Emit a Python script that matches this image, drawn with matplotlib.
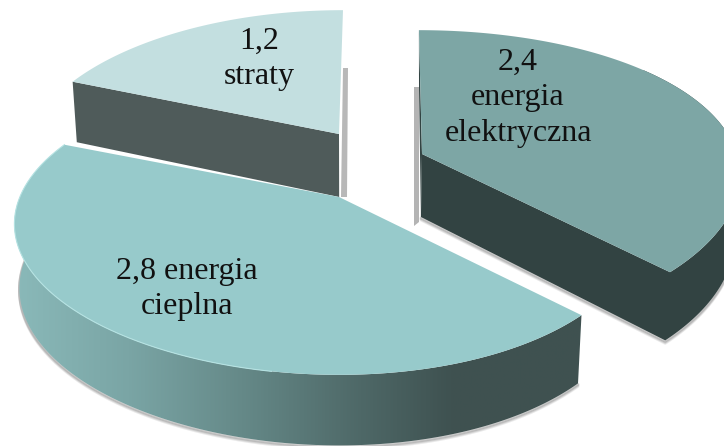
import numpy as np
from matplotlib import pyplot as plt
from matplotlib.colors import LinearSegmentedColormap
from matplotlib.patches import Polygon

# values go clockwise from 12 o'clock
VALUES = [2.4, 2.8, 1.2]
LABELS = ["2,4\nenergia\nelektryczna", "2,8 energia\ncieplna", "1,2\nstraty"]

# exploded slice geometry, in image pixels
APEX_X = [422, 339, 339]
APEX_Y = [154, 197, 134]
RADIUS_X = [315, 308, 310]
SKEW_X = [-3.5, 0, 4.7]
TILT_X = [0, 0.035, 0]
PERSP_X = [0.13, 0.179, 0.179]
LABEL_X = [518, 187, 259]
LABEL_Y = [98, 289, 59]

FACE_COLORS = ["#7da6a5", "#97cacb", "#c3dfe0"]
WALL_COLORS = ["#324342", "#3f5251", "#4f5b5a"]
SIDE_STOPS = [0, 0.2, 0.4, 0.61, 0.765, 1]
SIDE_GRADIENT = ["#8ab9b9", "#7aa5a5", "#658988", "#4e6867", "#3f5251", "#3f5150"]

RADIUS_Y = 146
PERSPECTIVE = 0.179
DEPTH = 63
SHADOW = "#8a8a8a"


def project(i, theta):
    u, v = np.cos(theta), np.sin(theta)
    x = APEX_X[i] + (RADIUS_X[i] * u + SKEW_X[i] * v) / (1 + PERSP_X[i] * v + TILT_X[i] * u)
    y = APEX_Y[i] - RADIUS_Y * v / (1 + PERSPECTIVE * v)
    return x, y, DEPTH / (1 + 0.6 * PERSPECTIVE * v)


def drop(x, y, depth):
    # walls lean slightly towards the middle of the picture
    return x + (350 - x) * 0.015, y + depth


def wall(ax, xs, ys, ds, **kwargs):
    bx, by = drop(xs, ys, ds)
    pts = np.column_stack([np.r_[xs, bx[::-1]], np.r_[ys, by[::-1]]])
    patch = Polygon(pts, closed=True, **kwargs)
    ax.add_patch(patch)
    return patch, bx, by


def ground_shadow(ax, bx, by):
    for off, alpha in zip([3.0, 2.0, 1.0], [0.18, 0.25, 0.35]):
        ax.plot(bx, by + off, color=SHADOW, alpha=alpha, linewidth=2,
                solid_capstyle='round', zorder=1)


fig = plt.figure(figsize=(7.24, 4.46), dpi=100)
ax = fig.add_axes([0, 0, 1, 1])
ax.set_xlim(0, 724)
ax.set_ylim(446, 0)
ax.axis('off')

spans = np.array(VALUES) / sum(VALUES) * 2 * np.pi
ends = np.pi / 2 - np.cumsum(spans)
starts = ends + spans

# right slice (furthest from the viewer, drawn first)
t = np.linspace(ends[0], starts[0], 200)
x, y, d = project(0, t)
ax_, ay_ = float(APEX_X[0]), float(APEX_Y[0])

ax.add_patch(Polygon([(414, 87), (419, 87), (419, 222), (414, 226)], color="#b4b4b4", lw=0, zorder=1))
arc = t < np.radians(40)
_, bx, by = wall(ax, np.r_[ax_, x[arc]], np.r_[ay_, y[arc]], np.r_[DEPTH, d[arc]],
                 color=WALL_COLORS[0], lw=0, zorder=2)
ground_shadow(ax, bx, by)
ax.add_patch(Polygon([(x[-1], y[-1]), (ax_, ay_), (ax_ - 1, ay_ + 66), (ax_ - 3, 87)],
                     color=WALL_COLORS[0], lw=0, zorder=2))
ax.add_patch(Polygon(np.column_stack([np.r_[ax_, x], np.r_[ay_, y]]),
                     color=FACE_COLORS[0], lw=0, zorder=3))

# top slice
t = np.linspace(ends[2], starts[2], 120)
x, y, d = project(2, t)
ax_, ay_ = float(APEX_X[2]), float(APEX_Y[2])
ax.add_patch(Polygon([(343, 68), (348, 68), (347, 197), (341, 197)], color="#b8b8b8", lw=0, zorder=3))
edge_x = np.r_[x[-1], ax_]
edge_y = np.r_[y[-1], ay_]
edge_d = np.r_[d[-1], DEPTH]
wall(ax, edge_x, edge_y, edge_d, color=WALL_COLORS[2], lw=0, zorder=4)
ax.add_patch(Polygon(np.column_stack([np.r_[ax_, x], np.r_[ay_, y]]),
                     color=FACE_COLORS[2], lw=0, zorder=5))

# big front slice, the curved side has a horizontal gradient
t = np.linspace(ends[1], starts[1], 260)
x, y, d = project(1, t)
ax_, ay_ = float(APEX_X[1]), float(APEX_Y[1])
bx, by = drop(x, y, d)
ground_shadow(ax, bx, by)
side, bx, by = wall(ax, x, y, d, facecolor='none', lw=0, zorder=6)
cmap = LinearSegmentedColormap.from_list("side", list(zip(SIDE_STOPS, SIDE_GRADIENT)))
grad = ax.imshow(np.linspace(0, 1, 256)[None, :], cmap=cmap, aspect='auto',
                 extent=(14, 584, 446, 200), zorder=6)
grad.set_clip_path(side)
ax.set_xlim(0, 724)
ax.set_ylim(446, 0)
ax.add_patch(Polygon(np.column_stack([np.r_[ax_, x], np.r_[ay_, y]]),
                     color=FACE_COLORS[1], lw=0, zorder=7))
# thin light rim along the front edge of the face
rim = t < np.radians(-100)
ax.plot(x[rim], y[rim], color="#b5e2e2", linewidth=0.8, zorder=8)

for label, lx, ly in zip(LABELS, LABEL_X, LABEL_Y):
    ax.text(lx, ly, label, ha='center', va='center', fontsize=23,
            family='Liberation Serif', color="#111111", linespacing=1.3, zorder=9)

fig.savefig("out.png", dpi=100)
